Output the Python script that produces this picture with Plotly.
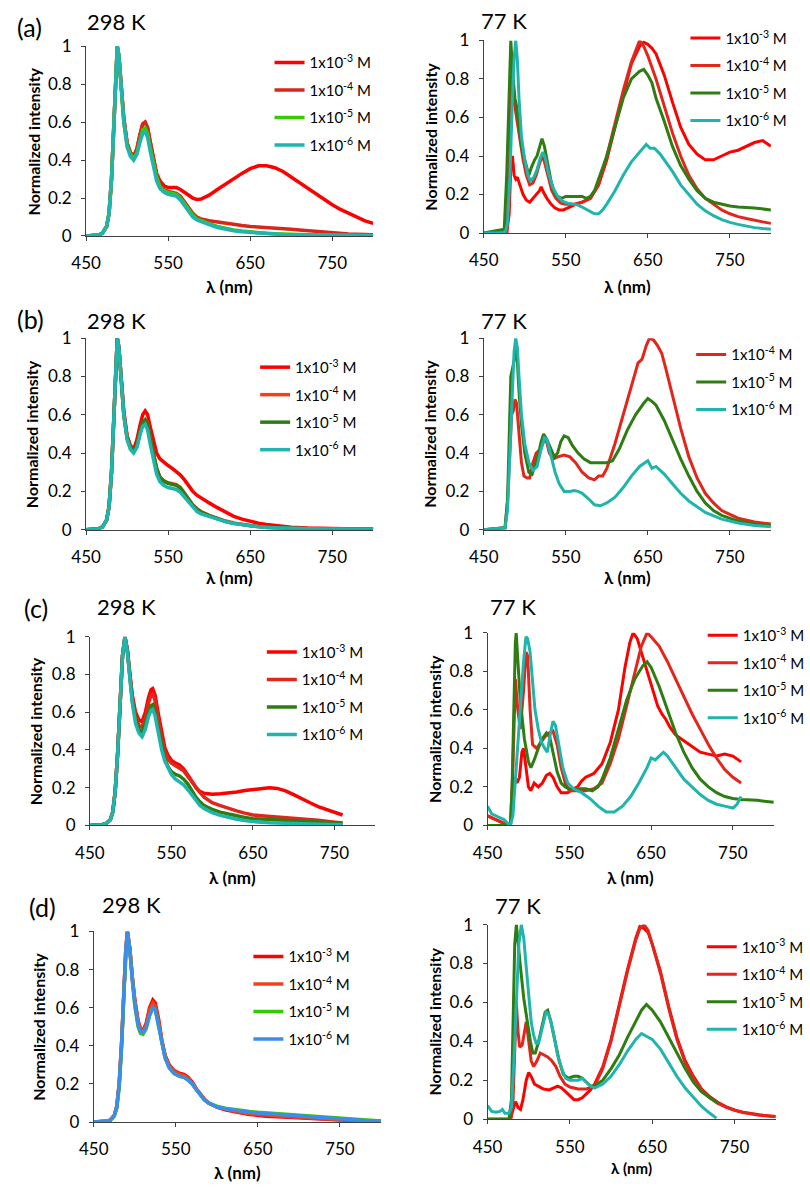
import plotly.graph_objects as go

FONT = "Lato"
W, H = 810, 1192

LEG_LABELS = ["1x10<sup>-3</sup> M", "1x10<sup>-4</sup> M", "1x10<sup>-5</sup> M", "1x10<sup>-6</sup> M"]
X_TICKS = [450, 550, 650, 750]
Y_TICKS = [0, 0.2, 0.4, 0.6, 0.8, 1]
Y_TICK_TEXT = ["0", "0.2", "0.4", "0.6", "0.8", "1"]

# ---------------- (a) 298 K ----------------
A298_1E3 = [[450,0],[465,0.005],[470,0.015],[475,0.05],[478,0.12],[481,0.3],[484,0.6],[486,0.85],[488,1.0],[490,0.95],[493,0.79],[496,0.62],[500,0.49],[504,0.44],[508,0.42],[512,0.46],[516,0.54],[519,0.59],[522,0.6],[525,0.57],[528,0.5],[532,0.41],[536,0.33],[540,0.29],[545,0.265],[550,0.255],[555,0.255],[560,0.255],[565,0.245],[570,0.23],[575,0.215],[580,0.2],[585,0.193],[590,0.195],[595,0.205],[600,0.215],[610,0.245],[620,0.275],[630,0.3],[640,0.33],[650,0.355],[660,0.37],[670,0.37],[680,0.36],[690,0.34],[700,0.31],[710,0.28],[720,0.25],[730,0.22],[740,0.19],[750,0.165],[760,0.14],[770,0.12],[780,0.1],[790,0.08],[800,0.066]]
A298_1E4 = [[450,0],[465,0.005],[470,0.015],[475,0.05],[478,0.12],[481,0.3],[484,0.6],[486,0.85],[488,1.0],[490,0.95],[493,0.79],[496,0.62],[500,0.49],[504,0.44],[508,0.42],[512,0.46],[516,0.54],[519,0.59],[522,0.6],[525,0.57],[528,0.5],[532,0.4],[536,0.32],[540,0.27],[545,0.245],[550,0.235],[555,0.23],[560,0.225],[565,0.21],[570,0.18],[575,0.15],[580,0.12],[585,0.1],[590,0.09],[600,0.08],[610,0.073],[620,0.067],[630,0.06],[640,0.055],[650,0.05],[660,0.048],[670,0.046],[680,0.043],[690,0.04],[700,0.036],[710,0.032],[720,0.028],[730,0.024],[740,0.02],[750,0.017],[760,0.014],[770,0.011],[780,0.009],[790,0.007],[800,0.006]]
A298_1E5 = [[450,0],[465,0.005],[470,0.015],[475,0.05],[478,0.12],[481,0.3],[484,0.6],[486,0.85],[488,1.0],[490,0.95],[493,0.78],[496,0.6],[500,0.48],[504,0.43],[508,0.41],[512,0.44],[516,0.51],[519,0.56],[522,0.57],[525,0.54],[528,0.47],[532,0.38],[536,0.31],[540,0.26],[545,0.24],[550,0.23],[555,0.225],[560,0.22],[565,0.2],[570,0.17],[575,0.14],[580,0.11],[585,0.09],[590,0.08],[600,0.065],[610,0.05],[620,0.04],[630,0.032],[640,0.026],[650,0.021],[660,0.017],[670,0.014],[680,0.012],[690,0.01],[700,0.009],[720,0.007],[740,0.005],[760,0.004],[780,0.003],[800,0.003]]
A298_1E6 = [[450,0],[465,0.005],[470,0.015],[475,0.05],[478,0.12],[481,0.3],[484,0.6],[486,0.85],[488,1.0],[490,0.95],[493,0.78],[496,0.6],[500,0.47],[504,0.42],[508,0.4],[512,0.43],[516,0.5],[519,0.54],[522,0.55],[525,0.52],[528,0.45],[532,0.36],[536,0.29],[540,0.25],[545,0.23],[550,0.22],[555,0.215],[560,0.21],[565,0.19],[570,0.16],[575,0.13],[580,0.1],[585,0.085],[590,0.075],[600,0.06],[610,0.045],[620,0.035],[630,0.028],[640,0.022],[650,0.018],[660,0.015],[670,0.012],[680,0.01],[690,0.008],[700,0.007],[720,0.005],[740,0.004],[760,0.003],[780,0.002],[800,0.002]]

# ---------------- (a) 77 K ----------------
A77_1E3 = [[450,0],[478,0],[481,0.1],[483,0.35],[485,0.4],[487,0.3],[489,0.28],[491,0.29],[494,0.25],[498,0.2],[502,0.17],[506,0.16],[510,0.18],[514,0.2],[518,0.22],[520,0.24],[523,0.21],[527,0.18],[532,0.15],[537,0.13],[542,0.12],[547,0.12],[552,0.13],[560,0.145],[570,0.16],[580,0.18],[590,0.25],[600,0.38],[610,0.55],[620,0.72],[630,0.88],[640,0.97],[645,0.99],[650,0.98],[655,0.96],[660,0.93],[670,0.82],[680,0.68],[690,0.55],[700,0.46],[710,0.41],[720,0.38],[730,0.38],[740,0.4],[750,0.42],[760,0.43],[770,0.45],[780,0.47],[790,0.48],[800,0.45]]
A77_1E4 = [[450,0],[478,0],[481,0.3],[483,0.75],[484,0.82],[486,0.7],[488,0.66],[490,0.6],[494,0.48],[498,0.38],[502,0.3],[506,0.25],[510,0.26],[514,0.3],[518,0.36],[521,0.4],[524,0.37],[528,0.3],[533,0.22],[538,0.18],[544,0.155],[550,0.15],[560,0.15],[570,0.16],[580,0.18],[590,0.25],[600,0.4],[610,0.57],[620,0.74],[630,0.89],[636,0.96],[640,1.0],[645,0.97],[650,0.92],[660,0.8],[670,0.66],[680,0.52],[690,0.4],[700,0.3],[710,0.23],[720,0.18],[730,0.15],[740,0.12],[750,0.1],[760,0.085],[770,0.075],[780,0.065],[790,0.058],[800,0.05]]
A77_1E5 = [[450,0],[475,0.02],[478,0.3],[481,0.8],[483,1.0],[485,0.85],[488,0.7],[490,0.66],[493,0.55],[496,0.45],[500,0.38],[505,0.3],[508,0.34],[512,0.38],[515,0.4],[519,0.46],[521,0.49],[524,0.45],[528,0.35],[532,0.27],[536,0.21],[540,0.19],[545,0.18],[550,0.19],[560,0.19],[570,0.19],[575,0.18],[580,0.19],[585,0.22],[590,0.28],[600,0.4],[610,0.55],[620,0.7],[630,0.8],[640,0.84],[645,0.85],[650,0.82],[655,0.78],[660,0.7],[670,0.58],[680,0.45],[690,0.35],[700,0.28],[710,0.22],[720,0.18],[730,0.16],[740,0.15],[750,0.14],[760,0.135],[780,0.13],[800,0.12]]
A77_1E6 = [[450,0],[476,0],[479,0.05],[482,0.3],[485,0.7],[487,0.9],[489,1.0],[491,0.9],[493,0.7],[496,0.5],[500,0.38],[504,0.3],[507,0.27],[511,0.29],[515,0.33],[519,0.39],[522,0.42],[525,0.39],[529,0.31],[534,0.24],[540,0.19],[546,0.165],[552,0.155],[558,0.15],[565,0.145],[572,0.13],[580,0.11],[585,0.1],[590,0.1],[595,0.12],[600,0.15],[610,0.22],[620,0.3],[630,0.37],[640,0.42],[648,0.46],[653,0.44],[658,0.44],[665,0.41],[670,0.38],[680,0.32],[690,0.25],[700,0.2],[710,0.15],[720,0.115],[730,0.09],[740,0.07],[750,0.055],[760,0.045],[770,0.035],[780,0.028],[790,0.023],[800,0.02]]

# ---------------- (b) 298 K ----------------
B298_1E3 = [[450,0],[465,0.005],[470,0.015],[475,0.05],[478,0.12],[481,0.3],[484,0.6],[486,0.85],[488,1.0],[490,0.95],[493,0.79],[496,0.62],[500,0.49],[504,0.44],[508,0.42],[512,0.47],[516,0.55],[519,0.6],[522,0.62],[525,0.6],[528,0.54],[532,0.46],[536,0.4],[540,0.37],[545,0.35],[550,0.335],[555,0.32],[560,0.305],[565,0.285],[570,0.26],[575,0.23],[580,0.2],[585,0.18],[590,0.165],[600,0.14],[610,0.115],[620,0.09],[630,0.07],[640,0.055],[650,0.043],[660,0.034],[670,0.027],[680,0.021],[690,0.017],[700,0.013],[720,0.009],[740,0.006],[760,0.004],[780,0.003],[800,0.002]]
B298_1E4 = [[450,0],[465,0.005],[470,0.015],[475,0.05],[478,0.12],[481,0.3],[484,0.6],[486,0.85],[488,1.0],[490,0.95],[493,0.78],[496,0.6],[500,0.48],[504,0.43],[508,0.41],[512,0.44],[516,0.51],[519,0.56],[522,0.575],[525,0.55],[528,0.48],[532,0.39],[536,0.32],[540,0.275],[545,0.255],[550,0.245],[555,0.24],[560,0.235],[565,0.22],[570,0.19],[575,0.16],[580,0.13],[585,0.11],[590,0.095],[600,0.075],[610,0.06],[620,0.045],[630,0.035],[640,0.027],[650,0.021],[660,0.017],[670,0.013],[680,0.01],[700,0.007],[720,0.005],[750,0.003],[800,0.002]]
B298_1E5 = [[450,0],[465,0.005],[470,0.015],[475,0.05],[478,0.12],[481,0.3],[484,0.6],[486,0.85],[488,1.0],[490,0.95],[493,0.78],[496,0.6],[500,0.48],[504,0.43],[508,0.41],[512,0.44],[516,0.51],[519,0.56],[522,0.572],[525,0.55],[528,0.48],[532,0.39],[536,0.32],[540,0.272],[545,0.252],[550,0.242],[555,0.237],[560,0.232],[565,0.217],[570,0.187],[575,0.157],[580,0.127],[585,0.107],[590,0.092],[600,0.073],[610,0.058],[620,0.043],[630,0.033],[640,0.026],[650,0.02],[660,0.016],[670,0.012],[680,0.01],[700,0.007],[720,0.005],[750,0.003],[800,0.002]]
B298_1E6 = [[450,0],[465,0.005],[470,0.015],[475,0.05],[478,0.12],[481,0.3],[484,0.6],[486,0.85],[488,1.0],[490,0.95],[493,0.78],[496,0.6],[500,0.47],[504,0.42],[508,0.4],[512,0.43],[516,0.5],[519,0.54],[522,0.55],[525,0.52],[528,0.45],[532,0.36],[536,0.29],[540,0.25],[545,0.23],[550,0.22],[555,0.215],[560,0.21],[565,0.195],[570,0.17],[575,0.14],[580,0.115],[585,0.095],[590,0.082],[600,0.068],[610,0.055],[620,0.042],[630,0.032],[640,0.025],[650,0.019],[660,0.015],[670,0.012],[680,0.01],[700,0.007],[720,0.005],[750,0.003],[800,0.002]]

# ---------------- (b) 77 K ----------------
B77_1E4 = [[450,0],[470,0.005],[476,0.01],[479,0.15],[482,0.45],[484,0.6],[486,0.62],[488,0.68],[490,0.66],[493,0.5],[496,0.35],[499,0.28],[503,0.27],[506,0.27],[510,0.35],[514,0.4],[519,0.42],[523,0.46],[526,0.47],[530,0.4],[535,0.37],[540,0.38],[548,0.39],[555,0.38],[562,0.35],[570,0.3],[578,0.27],[585,0.26],[590,0.28],[595,0.28],[600,0.32],[610,0.45],[620,0.6],[630,0.76],[638,0.87],[643,0.89],[648,0.96],[652,1.0],[657,0.99],[662,0.96],[667,0.92],[672,0.84],[680,0.7],[690,0.53],[700,0.38],[710,0.27],[720,0.19],[730,0.14],[740,0.1],[760,0.06],[780,0.04],[800,0.03]]
B77_1E5 = [[450,0],[470,0.005],[476,0.01],[479,0.15],[481,0.5],[483,0.8],[485,0.84],[487,0.88],[489,0.95],[491,0.88],[493,0.72],[496,0.55],[500,0.4],[505,0.3],[509,0.29],[513,0.34],[517,0.4],[520,0.46],[523,0.5],[527,0.47],[532,0.42],[536,0.38],[540,0.4],[544,0.46],[548,0.49],[553,0.48],[558,0.44],[565,0.4],[572,0.37],[580,0.35],[590,0.35],[600,0.35],[607,0.36],[615,0.42],[625,0.52],[635,0.6],[645,0.66],[650,0.685],[655,0.67],[660,0.65],[670,0.57],[680,0.47],[690,0.37],[700,0.28],[710,0.2],[720,0.14],[730,0.1],[740,0.075],[760,0.045],[780,0.03],[800,0.02]]
B77_1E6 = [[450,0],[470,0.005],[476,0.01],[479,0.1],[482,0.4],[485,0.75],[487,0.93],[489,1.0],[491,0.95],[493,0.8],[496,0.6],[500,0.45],[505,0.35],[510,0.31],[515,0.33],[520,0.42],[524,0.48],[527,0.47],[532,0.38],[537,0.3],[542,0.24],[548,0.2],[555,0.2],[560,0.205],[565,0.2],[570,0.19],[578,0.16],[585,0.13],[592,0.125],[600,0.14],[610,0.17],[620,0.22],[630,0.28],[640,0.33],[650,0.36],[655,0.32],[660,0.33],[670,0.29],[680,0.24],[690,0.19],[700,0.15],[710,0.12],[720,0.09],[740,0.055],[760,0.035],[780,0.022],[800,0.015]]

# ---------------- (c) 298 K ----------------
C298_1E3 = [[450,0],[465,0.004],[470,0.01],[475,0.03],[478,0.07],[481,0.18],[484,0.38],[487,0.65],[490,0.9],[493,1.0],[496,0.93],[499,0.8],[502,0.69],[506,0.6],[510,0.56],[514,0.55],[518,0.6],[522,0.68],[525,0.72],[527,0.725],[530,0.69],[534,0.59],[538,0.49],[542,0.41],[546,0.37],[550,0.345],[555,0.33],[560,0.32],[565,0.3],[570,0.27],[575,0.235],[580,0.2],[585,0.18],[590,0.17],[600,0.165],[610,0.168],[620,0.172],[630,0.177],[640,0.185],[650,0.19],[660,0.195],[670,0.2],[680,0.196],[690,0.183],[700,0.163],[710,0.14],[720,0.12],[730,0.1],[740,0.085],[750,0.07],[760,0.055]]
C298_1E4 = [[450,0],[465,0.004],[470,0.01],[475,0.03],[478,0.07],[481,0.18],[484,0.38],[487,0.65],[490,0.9],[493,1.0],[496,0.93],[499,0.8],[502,0.68],[506,0.58],[510,0.53],[514,0.52],[518,0.57],[522,0.65],[525,0.69],[527,0.7],[530,0.66],[534,0.56],[538,0.46],[542,0.39],[546,0.35],[550,0.33],[555,0.315],[560,0.305],[565,0.29],[570,0.26],[575,0.23],[580,0.2],[585,0.175],[590,0.15],[600,0.12],[610,0.105],[620,0.09],[630,0.077],[640,0.065],[650,0.055],[660,0.051],[670,0.048],[685,0.044],[700,0.04],[715,0.033],[730,0.027],[745,0.02],[760,0.013]]
C298_1E5 = [[450,0],[465,0.004],[470,0.01],[475,0.03],[478,0.07],[481,0.18],[484,0.38],[487,0.65],[490,0.9],[493,1.0],[496,0.92],[499,0.79],[502,0.66],[506,0.56],[510,0.51],[514,0.49],[518,0.54],[522,0.6],[525,0.635],[527,0.64],[530,0.6],[534,0.51],[538,0.42],[542,0.35],[546,0.31],[550,0.285],[555,0.27],[560,0.262],[565,0.245],[570,0.22],[575,0.185],[580,0.15],[585,0.125],[590,0.105],[600,0.085],[610,0.07],[620,0.06],[630,0.05],[640,0.042],[650,0.035],[665,0.031],[680,0.028],[700,0.024],[730,0.018],[760,0.012]]
C298_1E6 = [[450,0],[465,0.004],[470,0.01],[475,0.03],[478,0.07],[481,0.18],[484,0.38],[487,0.65],[490,0.9],[493,1.0],[496,0.92],[499,0.78],[502,0.65],[506,0.54],[510,0.49],[514,0.47],[518,0.51],[522,0.58],[525,0.61],[527,0.615],[530,0.58],[534,0.49],[538,0.4],[542,0.34],[546,0.3],[550,0.27],[555,0.245],[560,0.232],[565,0.215],[570,0.19],[575,0.16],[580,0.13],[585,0.105],[590,0.09],[600,0.068],[610,0.053],[620,0.042],[630,0.033],[640,0.026],[650,0.02],[670,0.014],[690,0.01],[710,0.008],[730,0.006],[760,0.004]]

# ---------------- (c) 77 K ----------------
C77_1E3 = [[450,0.05],[460,0.03],[470,0.01],[478,0],[481,0.15],[483,0.25],[486,0.22],[489,0.25],[492,0.38],[494,0.4],[497,0.3],[500,0.2],[503,0.18],[507,0.22],[512,0.2],[517,0.22],[522,0.26],[526,0.27],[530,0.25],[535,0.2],[540,0.17],[548,0.17],[555,0.19],[560,0.2],[565,0.23],[570,0.25],[575,0.26],[580,0.27],[590,0.32],[600,0.43],[610,0.6],[618,0.82],[624,0.95],[628,1.0],[633,0.97],[638,0.9],[643,0.82],[648,0.75],[653,0.68],[658,0.62],[663,0.58],[668,0.55],[673,0.51],[680,0.47],[690,0.44],[700,0.41],[710,0.38],[720,0.37],[730,0.36],[740,0.37],[750,0.36],[760,0.33]]
C77_1E4 = [[450,0.05],[460,0.03],[470,0.01],[478,0],[481,0.3],[484,0.76],[487,0.6],[490,0.5],[494,0.7],[497,0.9],[499,0.88],[502,0.6],[505,0.42],[510,0.4],[515,0.43],[520,0.46],[525,0.48],[530,0.49],[535,0.42],[540,0.3],[545,0.22],[550,0.18],[560,0.18],[570,0.18],[580,0.19],[590,0.22],[600,0.32],[610,0.45],[620,0.62],[630,0.8],[638,0.93],[645,1.0],[650,0.98],[660,0.93],[670,0.85],[680,0.76],[690,0.67],[700,0.58],[710,0.5],[720,0.42],[730,0.35],[740,0.29],[750,0.25],[760,0.22]]
C77_1E5 = [[450,0],[470,0],[478,0],[480,0.2],[482,0.6],[484,0.95],[485,1.0],[487,0.85],[490,0.65],[495,0.45],[500,0.33],[503,0.3],[507,0.34],[512,0.4],[517,0.45],[522,0.48],[526,0.46],[530,0.38],[535,0.28],[540,0.22],[545,0.2],[550,0.19],[560,0.19],[570,0.19],[578,0.18],[585,0.2],[590,0.24],[600,0.35],[610,0.5],[620,0.65],[630,0.76],[640,0.83],[645,0.85],[650,0.82],[660,0.72],[670,0.6],[680,0.48],[690,0.38],[700,0.3],[710,0.24],[720,0.2],[730,0.17],[740,0.15],[750,0.14],[760,0.135],[780,0.13],[800,0.12]]
C77_1E6 = [[450,0.1],[455,0.06],[460,0.05],[465,0.04],[470,0.03],[475,0.01],[478,0.0],[481,0.05],[485,0.3],[490,0.65],[494,0.85],[497,0.98],[499,0.97],[502,0.9],[505,0.75],[508,0.6],[512,0.5],[516,0.43],[520,0.4],[523,0.38],[527,0.48],[530,0.54],[533,0.52],[537,0.43],[542,0.3],[548,0.22],[555,0.19],[565,0.17],[575,0.14],[585,0.1],[595,0.07],[605,0.07],[615,0.1],[625,0.15],[635,0.22],[645,0.3],[650,0.35],[655,0.34],[660,0.36],[665,0.38],[670,0.36],[680,0.3],[690,0.24],[700,0.2],[710,0.16],[720,0.13],[730,0.11],[740,0.1],[750,0.09],[755,0.11],[760,0.15]]

# ---------------- (d) 298 K ----------------
D298_1E3 = [[450,0],[465,0.004],[470,0.01],[475,0.035],[478,0.08],[481,0.2],[484,0.42],[487,0.72],[489,0.9],[491,1.0],[494,0.91],[497,0.76],[500,0.64],[504,0.53],[507,0.49],[510,0.48],[514,0.52],[518,0.6],[522,0.64],[525,0.625],[529,0.54],[533,0.43],[537,0.35],[542,0.3],[548,0.27],[555,0.255],[560,0.25],[565,0.235],[570,0.21],[575,0.175],[580,0.145],[585,0.12],[590,0.1],[600,0.078],[610,0.065],[620,0.055],[630,0.047],[640,0.04],[650,0.035],[660,0.031],[680,0.026],[700,0.021],[720,0.016],[740,0.012],[760,0.009],[780,0.006],[800,0.004]]
D298_1E4 = [[450,0],[465,0.004],[470,0.01],[475,0.035],[478,0.08],[481,0.2],[484,0.42],[487,0.72],[489,0.9],[491,1.0],[494,0.91],[497,0.76],[500,0.64],[504,0.53],[507,0.485],[510,0.475],[514,0.51],[518,0.59],[522,0.625],[525,0.61],[529,0.53],[533,0.42],[537,0.345],[542,0.295],[548,0.265],[555,0.25],[560,0.245],[565,0.23],[570,0.205],[575,0.172],[580,0.142],[585,0.118],[590,0.1],[600,0.08],[610,0.068],[620,0.058],[630,0.05],[640,0.044],[650,0.04],[660,0.036],[680,0.03],[700,0.025],[720,0.019],[740,0.014],[760,0.01],[780,0.007],[800,0.005]]
D298_1E5 = [[450,0],[465,0.003],[470,0.008],[475,0.03],[478,0.07],[481,0.18],[484,0.4],[487,0.7],[489,0.89],[491,1.0],[494,0.9],[497,0.74],[500,0.61],[504,0.5],[507,0.465],[510,0.46],[514,0.49],[518,0.56],[522,0.6],[525,0.59],[529,0.51],[533,0.41],[537,0.335],[542,0.285],[548,0.255],[555,0.24],[560,0.235],[565,0.22],[570,0.2],[575,0.17],[580,0.14],[585,0.117],[590,0.1],[600,0.083],[610,0.073],[620,0.066],[630,0.06],[640,0.055],[650,0.051],[660,0.048],[680,0.042],[700,0.036],[720,0.028],[740,0.02],[760,0.014],[780,0.01],[800,0.006]]
D298_1E6 = [[450,0],[465,0.004],[470,0.01],[475,0.035],[478,0.08],[481,0.2],[484,0.42],[487,0.72],[489,0.9],[491,1.0],[494,0.9],[497,0.74],[500,0.62],[504,0.51],[507,0.475],[510,0.47],[514,0.5],[518,0.56],[522,0.6],[525,0.59],[529,0.51],[533,0.41],[537,0.335],[542,0.285],[548,0.255],[555,0.24],[560,0.235],[565,0.22],[570,0.2],[575,0.17],[580,0.14],[585,0.115],[590,0.1],[600,0.08],[610,0.07],[620,0.063],[630,0.057],[640,0.052],[650,0.048],[660,0.045],[680,0.038],[700,0.032],[720,0.024],[740,0.017],[760,0.012],[780,0.008],[800,0.005]]

# ---------------- (d) 77 K ----------------
D77_1E3 = [[450,0],[478,0],[481,0.05],[484,0.09],[487,0.06],[490,0.05],[493,0.1],[497,0.2],[500,0.24],[503,0.22],[507,0.18],[512,0.17],[518,0.155],[525,0.15],[530,0.16],[535,0.17],[540,0.16],[545,0.14],[550,0.12],[555,0.1],[560,0.1],[565,0.11],[570,0.13],[575,0.15],[580,0.18],[590,0.27],[600,0.41],[610,0.59],[620,0.77],[630,0.93],[635,0.99],[640,0.98],[645,0.96],[650,0.9],[660,0.76],[670,0.58],[680,0.42],[690,0.3],[700,0.22],[710,0.155],[720,0.115],[730,0.085],[740,0.063],[750,0.047],[760,0.036],[780,0.022],[800,0.013]]
D77_1E4 = [[450,0],[478,0],[481,0.1],[483,0.35],[485,0.6],[487,0.45],[489,0.37],[492,0.38],[495,0.46],[497,0.5],[500,0.4],[503,0.3],[506,0.27],[510,0.3],[514,0.34],[518,0.33],[523,0.32],[528,0.3],[533,0.27],[538,0.22],[544,0.18],[550,0.165],[560,0.155],[570,0.155],[580,0.17],[590,0.26],[600,0.4],[610,0.58],[620,0.76],[630,0.92],[635,0.98],[640,1.0],[645,0.97],[650,0.9],[660,0.75],[670,0.57],[680,0.41],[690,0.29],[700,0.21],[710,0.15],[720,0.11],[730,0.08],[740,0.06],[750,0.045],[760,0.034],[780,0.02],[800,0.012]]
D77_1E5 = [[450,0],[476,0],[479,0.1],[481,0.5],[483,0.9],[485,1.0],[487,0.9],[490,0.78],[494,0.62],[498,0.5],[502,0.4],[505,0.34],[508,0.34],[512,0.4],[516,0.48],[520,0.55],[523,0.56],[527,0.5],[532,0.4],[537,0.3],[542,0.23],[548,0.21],[555,0.22],[560,0.22],[565,0.21],[570,0.19],[575,0.17],[580,0.17],[590,0.2],[600,0.26],[610,0.33],[620,0.42],[630,0.5],[637,0.56],[643,0.59],[650,0.56],[660,0.5],[670,0.42],[680,0.34],[690,0.26],[700,0.19],[710,0.14],[720,0.11],[730,0.08]]
D77_1E6 = [[450,0.07],[455,0.04],[460,0.035],[465,0.04],[468,0.05],[471,0.03],[476,0.03],[479,0.06],[482,0.3],[485,0.65],[488,0.9],[491,1.0],[494,0.93],[497,0.78],[500,0.62],[503,0.5],[506,0.43],[509,0.39],[512,0.39],[515,0.44],[518,0.5],[521,0.55],[524,0.54],[527,0.5],[531,0.42],[535,0.33],[540,0.26],[545,0.21],[550,0.2],[555,0.2],[560,0.2],[565,0.21],[570,0.19],[575,0.17],[580,0.16],[585,0.17],[590,0.18],[600,0.22],[610,0.28],[620,0.35],[630,0.41],[637,0.44],[642,0.43],[650,0.41],[660,0.36],[670,0.29],[680,0.22],[690,0.16],[700,0.11],[710,0.065],[720,0.03],[728,0.005]]

RED3 = "#FF0000"
RED4 = "#E3261C"
GREEN_L = "#33CC00"
GREEN_D = "#2E7D12"
TEAL = "#1FB5AC"
BLUE = "#3A8EEA"

PANELS = [
    dict(series=[A298_1E3, A298_1E4, A298_1E5, A298_1E6], labels=[0, 1, 2, 3],
         colors=[RED3, "#D7261B", GREEN_L, TEAL], lw=3.5, box=(74, 373, 36, 229), leg=(270, 52)),
    dict(series=[A77_1E3, A77_1E4, A77_1E5, A77_1E6], labels=[0, 1, 2, 3],
         colors=[RED3, RED4, GREEN_D, TEAL], lw=3, box=(488, 787, 30, 226), leg=(703, 27)),
    dict(series=[B298_1E3, B298_1E4, B298_1E5, B298_1E6], labels=[0, 1, 2, 3],
         colors=[RED3, "#F2401E", GREEN_D, TEAL], lw=3.5, box=(74, 373, 333, 528), leg=(255, 362)),
    dict(series=[B77_1E4, B77_1E5, B77_1E6], labels=[1, 2, 3],
         colors=[RED4, GREEN_D, TEAL], lw=3, box=(488, 787, 333, 528), leg=(709, 349)),
    dict(series=[C298_1E3, C298_1E4, C298_1E5, C298_1E6], labels=[0, 1, 2, 3],
         colors=[RED3, RED4, GREEN_D, TEAL], lw=3.5, box=(78, 375, 637, 829), leg=(262, 652)),
    dict(series=[C77_1E3, C77_1E4, C77_1E5, C77_1E6], labels=[0, 1, 2, 3],
         colors=[RED3, RED4, GREEN_D, TEAL], lw=3, box=(492, 790, 633, 829), leg=(721, 635)),
    dict(series=[D298_1E3, D298_1E4, D298_1E5, D298_1E6], labels=[0, 1, 2, 3],
         colors=[RED3, "#F2401E", GREEN_L, BLUE], lw=3.5, box=(82, 381, 937, 1131), leg=(248, 962)),
    dict(series=[D77_1E3, D77_1E4, D77_1E5, D77_1E6], labels=[0, 1, 2, 3],
         colors=[RED3, RED4, GREEN_D, TEAL], lw=3, box=(492, 792, 930, 1128), leg=(720, 952)),
]

PANEL_TEXT = [
    ("(a)", 0, 16, 25), ("298 K", 73, 11, 22), ("77 K", 483, 10, 22),
    ("(b)", 0, 314, 25), ("298 K", 73, 315, 22), ("77 K", 483, 315, 22),
    ("(c)", 7, 608, 25), ("298 K", 83, 606, 22), ("77 K", 492, 606, 22),
    ("(d)", 13, 912, 25), ("298 K", 88, 910, 22), ("77 K", 498, 911, 22),
]
YTITLE_X = [19, 433, 18, 432, 21, 436, 25, 437]
XTITLE_Y = [280, 280, 577, 577, 882, 882, 1182, 1178]


def fx(p):
    return p / W


def fy(p):
    return 1 - p / H


fig = go.Figure()
annotations = []
layout = dict(
    width=W, height=H, margin=dict(l=0, r=0, t=0, b=0),
    paper_bgcolor="white", plot_bgcolor="white",
    font=dict(family=FONT, color="black", size=16),
    showlegend=True,
)

for i, p in enumerate(PANELS):
    n = i + 1
    sfx = "" if n == 1 else str(n)
    legkey = "legend" + sfx
    x0, x1, y0, y1 = p["box"]
    for s, lab, col in zip(p["series"], p["labels"], p["colors"]):
        fig.add_trace(go.Scatter(
            x=[pt[0] for pt in s], y=[pt[1] for pt in s], mode="lines",
            name=LEG_LABELS[lab], line=dict(color=col, width=p["lw"]),
            xaxis="x" + sfx, yaxis="y" + sfx,
            legend=legkey, legendgroup=f"g{n}_{lab}",
        ))
    layout["xaxis" + sfx] = dict(
        domain=[fx(x0), fx(x1)], anchor="y" + sfx, range=[450, 800],
        tickmode="array", tickvals=X_TICKS, ticks="outside", ticklen=4,
        tickcolor="#404040", showline=True, linecolor="#404040", linewidth=1,
        showgrid=False, zeroline=False, tickfont=dict(size=17, family=FONT),
        ticklabelstandoff=8,
    )
    layout["yaxis" + sfx] = dict(
        domain=[fy(y1), fy(y0)], anchor="x" + sfx, range=[0, 1],
        tickmode="array", tickvals=Y_TICKS, ticktext=Y_TICK_TEXT, ticks="outside",
        ticklen=4, tickcolor="#404040", showline=True, linecolor="#404040",
        linewidth=1, showgrid=False, zeroline=False, tickfont=dict(size=17, family=FONT),
        ticklabelstandoff=6,
    )
    lx, ly = p["leg"]
    layout[legkey] = dict(
        x=fx(lx - 5), y=fy(ly - 16), xanchor="left", yanchor="top",
        bgcolor="rgba(0,0,0,0)", borderwidth=0, tracegroupgap=5,
        font=dict(size=15, family=FONT, color="black"), itemclick=False,
    )
    annotations.append(dict(
        text="<b>Normalized intensity</b>", x=fx(YTITLE_X[i]), y=fy((y0 + y1) / 2),
        xref="paper", yref="paper", showarrow=False, textangle=-90,
        font=dict(size=16, family=FONT), xanchor="center", yanchor="middle",
    ))
    annotations.append(dict(
        text="<b>λ (nm)</b>", x=fx((x0 + x1) / 2), y=fy(XTITLE_Y[i]),
        xref="paper", yref="paper", showarrow=False,
        font=dict(size=17 if i != 7 else 15, family=FONT), xanchor="center", yanchor="middle",
    ))

for t, x, y, s in PANEL_TEXT:
    annotations.append(dict(
        text=t, x=fx(x), y=fy(y), xref="paper", yref="paper", showarrow=False,
        font=dict(size=s, family=FONT), xanchor="left", yanchor="middle",
    ))

layout["annotations"] = annotations
fig.update_layout(**layout)
fig.write_html("out.html")
